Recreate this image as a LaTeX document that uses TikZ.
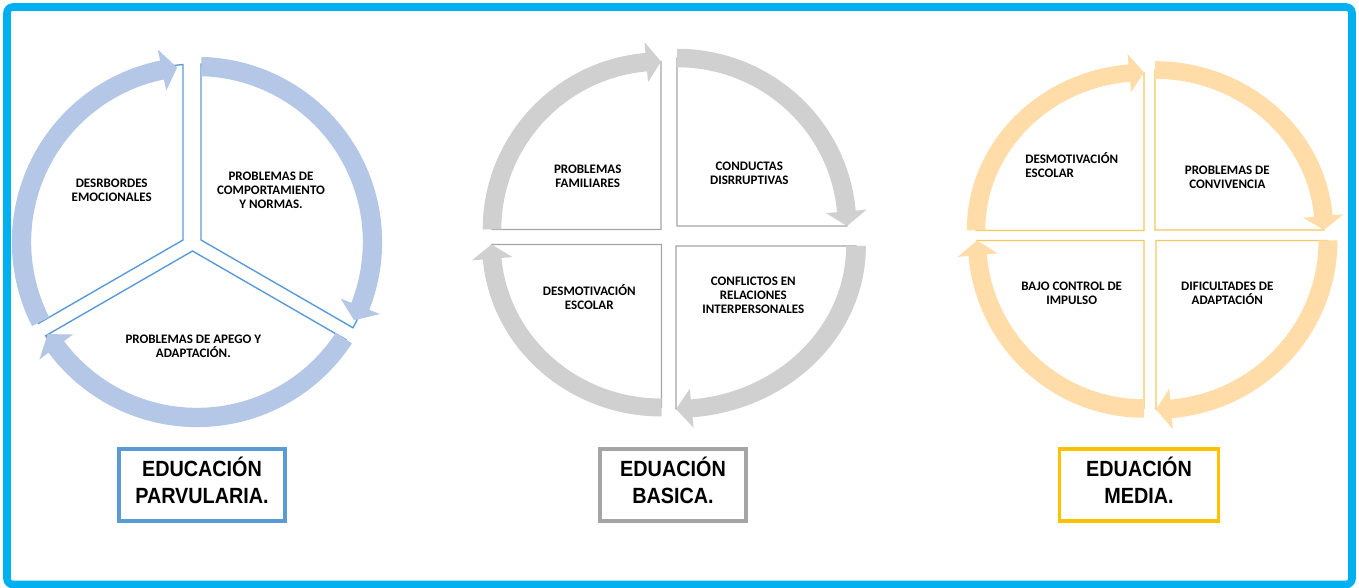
\documentclass[tikz,border=0pt]{standalone}
\usepackage{fontspec}
\setmainfont{Carlito}
\newfontfamily\labfont[FakeStretch=0.9]{Liberation Sans}
\definecolor{frameblue}{HTML}{00B0F0}
\definecolor{ringA}{HTML}{B4C7E7}
\definecolor{lineA}{HTML}{5B9BD5}
\definecolor{ringB}{HTML}{D0D0D0}
\definecolor{lineB}{HTML}{A5A5A5}
\definecolor{ringC}{HTML}{FFDCA8}
\definecolor{lineC}{HTML}{F2C85B}
\definecolor{boxA}{HTML}{5B9BD5}
\definecolor{boxB}{HTML}{A5A5A5}
\definecolor{boxC}{HTML}{FFC000}
\newcommand{\sectorpiece}[7]{%
  \begin{scope}[shift={(#1,#2)}, xscale=#3/100, yscale=-#4/100]
    \draw[#7, line width=0.7pt, fill=white, line join=miter] (0,0) -- (#5:100) arc[start angle=#5, end angle=#6, radius=100] -- cycle;
  \end{scope}}
% sector of the three-part cycle: apex (relative to the ring centre, y up), arc around the ring centre
\newcommand{\sectorthree}[5]{%
  \begin{scope}[shift={(197,242)}, x=0.5pt, y=0.5pt]
    \draw[#5, line width=0.7pt, fill=white, line join=miter] (#1,#2) -- (#3:178) arc[start angle=#3, end angle=#4, radius=178] -- cycle;
  \end{scope}}
\newcommand{\ringpiece}[7]{%
  \pgfmathsetmacro{\hb}{#6+5}%
  \begin{scope}[shift={(#1,#2)}, xscale=#3/100, yscale=-#4/100]
    \fill[#7] (#5:105.5) arc[start angle=#5, end angle=\hb, radius=105.5] -- (\hb:112) -- (#6:100) -- (\hb:88) -- (\hb:94.5) arc[start angle=\hb, end angle=#5, radius=94.5] -- cycle;
  \end{scope}}
\tikzset{
  cyctext/.style={font=\bfseries\fontsize{6.5}{7}\selectfont, align=center, inner sep=0pt},
  labtext/.style={font=\labfont\bfseries\fontsize{11}{13.5}\selectfont, align=center, inner sep=0pt},
  labbox/.style={line width=1.75pt, minimum width=83pt, minimum height=36pt, inner sep=0pt}
}
\begin{document}
\begin{tikzpicture}[x=0.5pt, y=-0.5pt]
\useasboundingbox (0,0) rectangle (1359,588);
\draw[frameblue, line width=3.8pt, rounded corners=3pt] (7,7) rectangle (1352,584.5);
% ---- left cycle
\sectorthree{-14}{2}{207.19}{94.51}{lineA}
\sectorthree{4}{2}{88.71}{-28.80}{lineA}
\sectorthree{-4.5}{-9}{-33.24}{-148.22}{lineA}
\ringpiece{197}{242}{175.5}{175.5}{207}{96.5}{ringA}
\ringpiece{197}{242}{175.5}{175.5}{88.6}{-26.5}{ringA}
\ringpiece{197}{242}{175.5}{175.5}{-33.2}{-148.3}{ringA}
% ---- middle cycle
\sectorpiece{661}{229.5}{169}{168}{180}{90}{lineB}
\sectorpiece{677}{226}{170}{168}{90}{0}{lineB}
\sectorpiece{676}{246}{180}{163}{0}{-90}{lineB}
\sectorpiece{661.5}{244.5}{170}{163}{-90}{-180}{lineB}
\ringpiece{661}{229.5}{169}{168}{180}{90}{ringB}
\ringpiece{677}{226}{170}{168}{90}{0}{ringB}
\ringpiece{676}{246}{180}{163}{0}{-90}{ringB}
\ringpiece{661.5}{244.5}{170}{163}{-90}{-180}{ringB}
% ---- right cycle
\sectorpiece{1144}{230.5}{168}{158}{180}{90}{lineC}
\sectorpiece{1155}{230}{169}{160}{90}{0}{lineC}
\sectorpiece{1156}{240.5}{172}{169}{0}{-90}{lineC}
\sectorpiece{1144}{240.5}{167}{168}{-90}{-180}{lineC}
\ringpiece{1144}{230.5}{168}{158}{180}{90}{ringC}
\ringpiece{1155}{230}{169}{160}{90}{0}{ringC}
\ringpiece{1156}{240.5}{172}{169}{0}{-90}{ringC}
\ringpiece{1144}{240.5}{167}{168}{-90}{-180}{ringC}
% ---- texts left
\node[cyctext] (a1) at (111.7,190) {DESRBORDES\\EMOCIONALES};
\node[cyctext] (a2) at (271,190) {PROBLEMAS DE\\COMPORTAMIENTO\\Y NORMAS.};
\node[cyctext] (a3) at (193.3,346.3) {PROBLEMAS DE APEGO Y\\ADAPTACIÓN.};
% ---- texts middle
\node[cyctext] (b1) at (587.7,176.7) {PROBLEMAS\\FAMILIARES};
\node[cyctext] (b2) at (749.3,173.7) {CONDUCTAS\\DISRRUPTIVAS};
\node[cyctext] (b3) at (589.3,297.2) {DESMOTIVACIÓN\\ESCOLAR};
\node[cyctext] (b4) at (753.3,295) {CONFLICTOS EN\\RELACIONES\\INTERPERSONALES};
% ---- texts right
\node[cyctext, align=left, anchor=west] (c1) at (1025,165) {DESMOTIVACIÓN\\ESCOLAR};
\node[cyctext] (c2) at (1227.3,177.5) {PROBLEMAS DE\\CONVIVENCIA};
\node[cyctext] (c3) at (1071.7,293) {BAJO CONTROL DE\\IMPULSO};
\node[cyctext] (c4) at (1227.3,293.7) {DIFICULTADES DE\\ADAPTACIÓN};
% ---- label boxes
\node[labbox, draw=boxA] (boxa) at (202,485) {};
\node[labbox, draw=boxB, minimum width=73pt] (boxb) at (673,485) {};
\node[labbox, draw=boxC, minimum width=79.5pt] (boxc) at (1139,485) {};
\node[labtext] (la) at (202,480) {EDUCACIÓN\\PARVULARIA.};
\node[labtext] (lb) at (673,480) {EDUACIÓN\\BASICA.};
\node[labtext] (lc) at (1139,480) {EDUACIÓN\\MEDIA.};
\end{tikzpicture}
\end{document}
